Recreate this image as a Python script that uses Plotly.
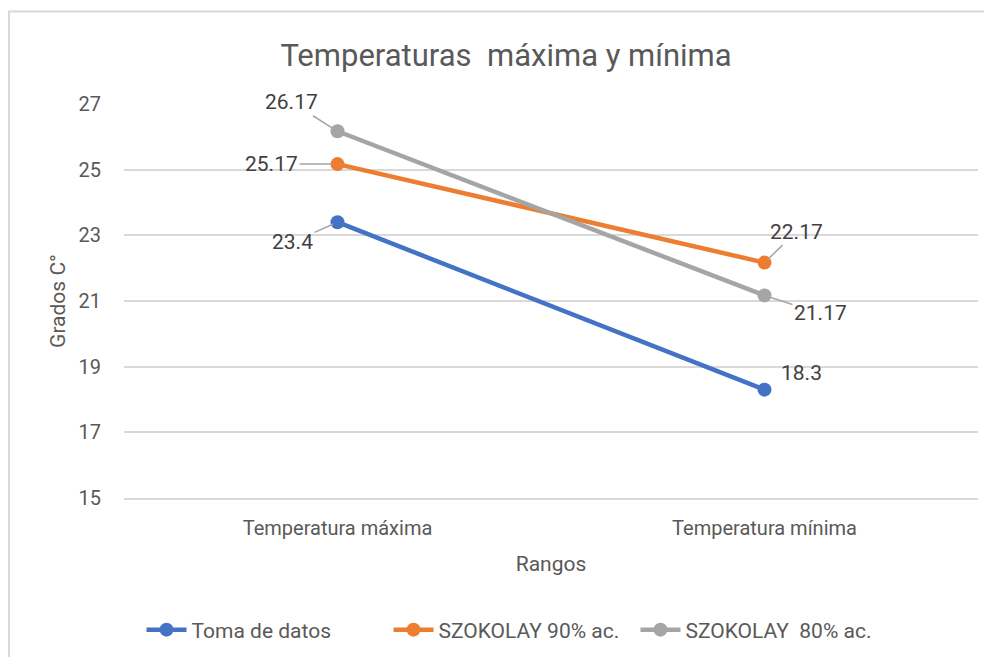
import plotly.graph_objects as go

categories = ["Temperatura máxima", "Temperatura mínima"]
series_names = ["Toma de datos", "SZOKOLAY 90% ac.", "SZOKOLAY  80% ac."]
toma_de_datos = [23.4, 18.3]
szokolay_90 = [25.17, 22.17]
szokolay_80 = [26.17, 21.17]
y_ticks = [15, 17, 19, 21, 23, 25, 27]

colors = ["#4472C4", "#ED7D31", "#A5A5A5"]
series = [toma_de_datos, szokolay_90, szokolay_80]

FONT = "Roboto, 'Open Sans', sans-serif"
TXT = "#595959"

fig = go.Figure()
for name, vals, col in zip(series_names, series, colors):
    fig.add_trace(go.Scatter(
        x=categories, y=vals, name=name, mode="lines+markers",
        line=dict(color=col, width=4.5),
        marker=dict(color=col, size=14),
        hoverinfo="skip",
    ))

# data-label offsets (pixels) per series per point: (ax, ay)
label_offsets = [
    [(-45, 20), (37, -17)],
    [(-66, 0), (32, -31)],
    [(-46, -29), (56, 18)],
]
leader = [[True, False], [True, True], [True, True]]

for vals, offs, lds in zip(series, label_offsets, leader):
    for cat, v, (ax, ay), ld in zip(categories, vals, offs, lds):
        txt = f"{v:g}"
        if ld:
            fig.add_annotation(x=cat, y=v, text=txt, showarrow=True,
                               ax=ax, ay=ay, arrowhead=0, arrowwidth=1.5,
                               arrowcolor="#A6A6A6", standoff=5,
                               font=dict(size=21, color="#404040", family=FONT))
        else:
            fig.add_annotation(x=cat, y=v, text=txt, showarrow=False,
                               xshift=ax, yshift=-ay,
                               font=dict(size=21, color="#404040", family=FONT))

# page offset of the plot div (browser body margin)
OFF = 8
W, H = 992 - OFF, 657 - OFF
L, R, T, B = 124 - OFF, 14, 104 - OFF, 159
pw, ph = W - L - R, H - T - B

def px_x(p):
    return (p - OFF - L) / pw

def px_y(p):
    return (H - B - (p - OFF)) / ph

# chart-area border (top and left edges)
fig.add_shape(type="line", xref="paper", yref="paper",
              x0=px_x(8), x1=px_x(992), y0=px_y(11.5), y1=px_y(11.5),
              line=dict(color="#D9D9D9", width=2), layer="below")
fig.add_shape(type="line", xref="paper", yref="paper",
              x0=px_x(9), x1=px_x(9), y0=px_y(11), y1=px_y(660),
              line=dict(color="#D9D9D9", width=2), layer="below")

fig.update_layout(
    width=W, height=H,
    margin=dict(l=L, r=R, t=T, b=B),
    paper_bgcolor="white", plot_bgcolor="white",
    font=dict(family=FONT, color=TXT, size=20),
    title=dict(text="Temperaturas  máxima y mínima", x=(506 - OFF) / W, xanchor="center",
               y=1 - (55 - OFF) / H, yanchor="middle",
               font=dict(size=31, color=TXT, family=FONT)),
    showlegend=True,
    legend=dict(orientation="h", xref="container", yref="container",
                x=(512 - OFF) / W, xanchor="center", y=1 - (630 - OFF) / H, yanchor="middle",
                font=dict(size=21, color=TXT, family=FONT),
                itemwidth=40, entrywidth=192, entrywidthmode="pixels",
                tracegroupgap=0, bgcolor="rgba(0,0,0,0)"),
    xaxis=dict(type="category", range=[-0.5, 1.5], showgrid=False,
               showline=True, linecolor="#D9D9D9", linewidth=1.5,
               zeroline=False, ticks="",
               tickfont=dict(size=20, color=TXT), ticklabelstandoff=11,
               title=dict(text="Rangos", font=dict(size=21, color=TXT), standoff=18)),
    yaxis=dict(range=[15, 27], tickvals=y_ticks, showgrid=True,
               gridcolor="#D9D9D9", gridwidth=1.5, zeroline=False,
               showline=False, ticks="", tickfont=dict(size=20, color=TXT),
               ticklabelstandoff=22,
               title=dict(text="Grados C°", font=dict(size=21, color=TXT), standoff=7)),
)

fig.write_html("out.html")
